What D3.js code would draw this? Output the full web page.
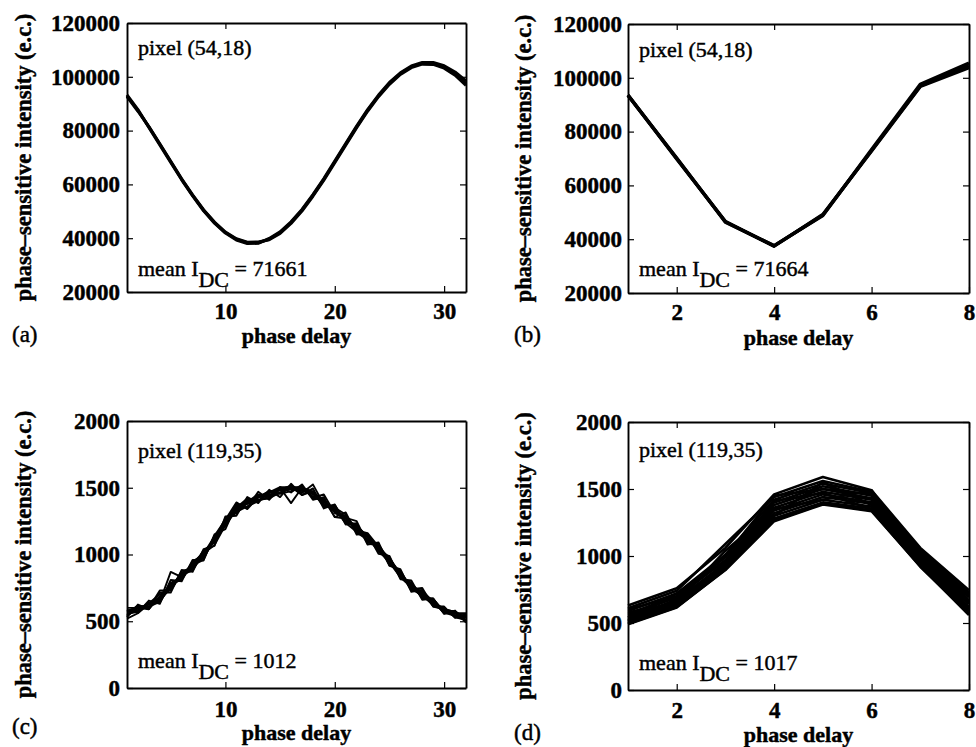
<!DOCTYPE html>
<html><head><meta charset="utf-8">
<script src="https://cdn.jsdelivr.net/npm/d3@7"></script>
<style>
body{margin:0;background:#fff}
svg{display:block}
text{font-family:"Liberation Serif","Times New Roman",serif;fill:#000;stroke:#000;stroke-width:0.45px}
</style></head>
<body><svg id="chart" width="976" height="747"></svg>
<script>
// ---------- data ----------
const delay32 = d3.range(1, 33);
const delay8 = d3.range(1, 9);

const yTicksTop = [20000, 40000, 60000, 80000, 100000, 120000];
const yTicksBottom = [0, 500, 1000, 1500, 2000];
const xTicks32 = [10, 20, 30];
const xTicks8 = [2, 4, 6, 8];

// (a) pixel (54,18), 32 phase delays, nearly identical repeats
const curvesA = [
  [92900, 87500, 81400, 74900, 68400, 61900, 55900, 50400, 45800, 42100, 39600, 38300, 38300, 39600, 42100, 45800, 50400, 55900, 61900, 68400, 74900, 81400, 87500, 92900, 97600, 101200, 103700, 105000, 105000, 103700, 101200, 97600],
  [93300, 87800, 81200, 74700, 68200, 61700, 55700, 50200, 45600, 41900, 39300, 38000, 38100, 39900, 42400, 46100, 50700, 56200, 62200, 68700, 75200, 81700, 87800, 93200, 97900, 101500, 104000, 105300, 105300, 104100, 101800, 98500],
  [92600, 87200, 81500, 75100, 68600, 62100, 56100, 50600, 46000, 42300, 39800, 38500, 38600, 39400, 41800, 45500, 50100, 55600, 61600, 68100, 74600, 81100, 87200, 92600, 97200, 100900, 103400, 104700, 104600, 103200, 100600, 96800]
];
// (b) pixel (54,18), 8 phase delays
const curvesB = [
  [93600, 70000, 46500, 37500, 49000, 73000, 97000, 104500],
  [93400, 70200, 46300, 37600, 48800, 73300, 97600, 105500],
  [93500, 69800, 46600, 37400, 49200, 72800, 96800, 103800]
];
// (c) pixel (119,35), 32 phase delays, noisy repeats
const curvesC = [
  [570, 575, 640, 660, 790, 820, 920, 1025, 1095, 1245, 1370, 1380, 1440, 1450, 1460, 1505, 1505, 1425, 1405, 1320, 1290, 1170, 1130, 1045, 980, 835, 770, 680, 655, 570, 555, 540],
  [540, 600, 590, 685, 740, 875, 895, 990, 1130, 1215, 1340, 1410, 1405, 1425, 1500, 1385, 1500, 1465, 1360, 1370, 1245, 1205, 1095, 1070, 930, 875, 730, 715, 630, 600, 535, 510],
  [565, 615, 610, 645, 870, 830, 930, 980, 1120, 1270, 1310, 1395, 1450, 1435, 1485, 1515, 1460, 1525, 1375, 1340, 1235, 1215, 1135, 1020, 960, 830, 780, 705, 615, 590, 570, 490],
  [550, 585, 635, 700, 750, 850, 880, 1015, 1095, 1255, 1320, 1360, 1400, 1460, 1480, 1490, 1495, 1435, 1415, 1280, 1270, 1180, 1160, 1060, 935, 860, 740, 730, 645, 565, 540, 535],
  [575, 610, 600, 675, 775, 815, 950, 990, 1105, 1230, 1355, 1400, 1430, 1435, 1460, 1510, 1480, 1465, 1410, 1320, 1280, 1165, 1110, 1075, 955, 845, 775, 685, 665, 575, 575, 500],
  [555, 570, 625, 650, 755, 860, 905, 1005, 1135, 1230, 1325, 1405, 1425, 1470, 1485, 1490, 1475, 1460, 1380, 1350, 1300, 1185, 1105, 1055, 970, 860, 765, 695, 630, 585, 545, 525],
  [580, 595, 630, 665, 745, 845, 920, 975, 1115, 1260, 1315, 1385, 1435, 1440, 1495, 1505, 1490, 1450, 1395, 1325, 1255, 1220, 1125, 1030, 940, 830, 755, 720, 650, 560, 560, 560],
  [545, 605, 605, 680, 765, 835, 895, 1030, 1090, 1245, 1335, 1380, 1410, 1420, 1465, 1500, 1500, 1470, 1370, 1335, 1250, 1200, 1140, 1040, 965, 855, 745, 690, 625, 595, 530, 510],
  [585, 565, 655, 630, 810, 800, 960, 955, 1150, 1190, 1375, 1350, 1470, 1410, 1505, 1465, 1525, 1410, 1430, 1280, 1315, 1150, 1155, 1005, 990, 815, 805, 660, 670, 555, 580, 500],
  [530, 625, 590, 715, 715, 885, 870, 1040, 1065, 1285, 1290, 1430, 1385, 1485, 1430, 1530, 1445, 1495, 1345, 1375, 1225, 1235, 1075, 1090, 915, 890, 720, 735, 610, 610, 525, 555],
  [600, 600, 600, 730, 730, 860, 920, 960, 1140, 1260, 1390, 1340, 1430, 1475, 1455, 1475, 1515, 1425, 1450, 1310, 1275, 1250, 1080, 1070, 920, 880, 740, 750, 610, 590, 570, 510],
  [520, 560, 630, 640, 780, 810, 940, 1010, 1070, 1220, 1350, 1420, 1400, 1465, 1505, 1505, 1445, 1475, 1370, 1360, 1235, 1170, 1150, 1030, 970, 830, 790, 670, 670, 560, 570, 530]
];
// (d) pixel (119,35), 8 phase delays, many repeats
const curvesD = [
  [630, 760, 1060, 1460, 1590, 1490, 1060, 745],
  [610, 740, 1090, 1440, 1560, 1480, 1050, 720],
  [590, 720, 1010, 1420, 1540, 1470, 1030, 700],
  [570, 700, 990, 1400, 1520, 1450, 1010, 690],
  [560, 690, 970, 1380, 1500, 1430, 1000, 670],
  [545, 670, 950, 1360, 1480, 1420, 980, 650],
  [530, 660, 940, 1340, 1460, 1400, 970, 640],
  [520, 650, 930, 1320, 1440, 1390, 960, 620],
  [510, 640, 920, 1300, 1420, 1370, 950, 600],
  [500, 625, 910, 1280, 1400, 1355, 930, 585],
  [490, 615, 900, 1265, 1390, 1340, 920, 570],
  [495, 620, 895, 1260, 1385, 1335, 925, 560],
  [600, 700, 1000, 1450, 1500, 1460, 1040, 710],
  [540, 720, 960, 1300, 1550, 1380, 990, 660],
  [580, 650, 1040, 1350, 1420, 1490, 970, 610],
  [515, 680, 920, 1410, 1470, 1350, 1020, 730]
];

const panelLetters = ["(a)", "(b)", "(c)", "(d)"];
const pixelLabels = ["pixel (54,18)", "pixel (54,18)", "pixel (119,35)", "pixel (119,35)"];
const meanValues = ["71661", "71664", "1012", "1017"];

// ---------- drawing ----------
const svg = d3.select("#chart");
const FS = 22;

function drawPanel(p) {
  const x = d3.scaleLinear().domain(p.xd).range([p.l, p.r]);
  const y = d3.scaleLinear().domain(p.yd).range([p.b, p.t]);
  const g = svg.append("g");

  const line = d3.line().x((d, i) => x(p.xs[i])).y(d => y(d));
  g.append("g").selectAll("path").data(p.curves).join("path")
    .attr("d", line).attr("fill", "none").attr("stroke", "#000")
    .attr("stroke-width", p.sw).attr("stroke-linejoin", "round");

  const styleAxis = (sel, labels) => {
    sel.select(".domain").attr("stroke", "#000").attr("stroke-width", 1.9);
    sel.selectAll(".tick line").attr("stroke", "#000").attr("stroke-width", 1.2);
    sel.selectAll(".tick text").attr("font-size", FS + 1).attr("font-weight", "bold")
      .attr("font-family", '"Liberation Serif","Times New Roman",serif');
    if (!labels) sel.selectAll(".tick text").remove();
  };
  g.append("g").attr("transform", `translate(0,${p.b})`)
    .call(d3.axisBottom(x).tickValues(p.xt).tickSize(-6).tickSizeOuter(0).tickPadding(p.xpad).tickFormat(d3.format("d")))
    .call(s => styleAxis(s, true));
  g.append("g").attr("transform", `translate(0,${p.t})`)
    .call(d3.axisTop(x).tickValues(p.xt).tickSize(-6).tickSizeOuter(0))
    .call(s => styleAxis(s, false));
  g.append("g").attr("transform", `translate(${p.l},0)`)
    .call(d3.axisLeft(y).tickValues(p.yt).tickSize(-6).tickSizeOuter(0).tickPadding(p.ypad).tickFormat(d3.format("d")))
    .call(s => styleAxis(s, true));
  g.append("g").attr("transform", `translate(${p.r},0)`)
    .call(d3.axisRight(y).tickValues(p.yt).tickSize(-6).tickSizeOuter(0))
    .call(s => styleAxis(s, false));

  // y label
  g.append("text")
    .attr("transform", `translate(${p.ylx},${(p.t + p.b) / 2}) rotate(-90)`)
    .attr("text-anchor", "middle").attr("font-size", FS + 0.5).attr("font-weight", "bold")
    .text("phase\u2013sensitive intensity (e.c.)");
  // x label
  g.append("text").attr("x", (p.l + p.r) / 2).attr("y", p.xly)
    .attr("text-anchor", "middle").attr("font-size", FS).attr("font-weight", "bold")
    .text("phase delay");
  // panel letter
  g.append("text").attr("x", p.lx).attr("y", p.ly).attr("font-size", FS + 1).text(p.letter);
  // pixel label
  g.append("text").attr("x", p.l + 11).attr("y", p.py).attr("font-size", FS).text(p.pixel);
  // mean I_DC label
  const m = g.append("text").attr("x", p.l + 11).attr("y", p.my).attr("font-size", FS);
  m.append("tspan").text("mean I");
  m.append("tspan").attr("dy", 11).attr("font-size", FS).text("DC");
  m.append("tspan").attr("dy", -11).text(" = " + p.mean);
}

const panels = [
  {l:127, r:466, t:23, b:292, xd:[1,32], yd:[20000,120000], xs:delay32, xt:xTicks32, yt:yTicksTop, curves:curvesA, sw:3,
   xpad:11, ypad:7, ylx:31, xly:343, lx:12, ly:342, py:55, my:276},
  {l:628, r:969, t:24, b:293, xd:[1,8], yd:[20000,120000], xs:delay8, xt:xTicks8, yt:yTicksTop, curves:curvesB, sw:3.4,
   xpad:11, ypad:6, ylx:531, xly:345, lx:514, ly:342, py:57, my:276},
  {l:127, r:466, t:421, b:688, xd:[1,32], yd:[0,2000], xs:delay32, xt:xTicks32, yt:yTicksBottom, curves:curvesC, sw:1.9,
   xpad:13, ypad:7, ylx:31, xly:740, lx:12, ly:734, py:458, my:668},
  {l:628, r:969, t:422, b:690, xd:[1,8], yd:[0,2000], xs:delay8, xt:xTicks8, yt:yTicksBottom, curves:curvesD, sw:2.6,
   xpad:12, ypad:6, ylx:531, xly:742, lx:514, ly:740, py:457, my:670}
];
panels.forEach((p, i) => drawPanel(Object.assign(p, {letter: panelLetters[i], pixel: pixelLabels[i], mean: meanValues[i]})));
</script></body></html>
